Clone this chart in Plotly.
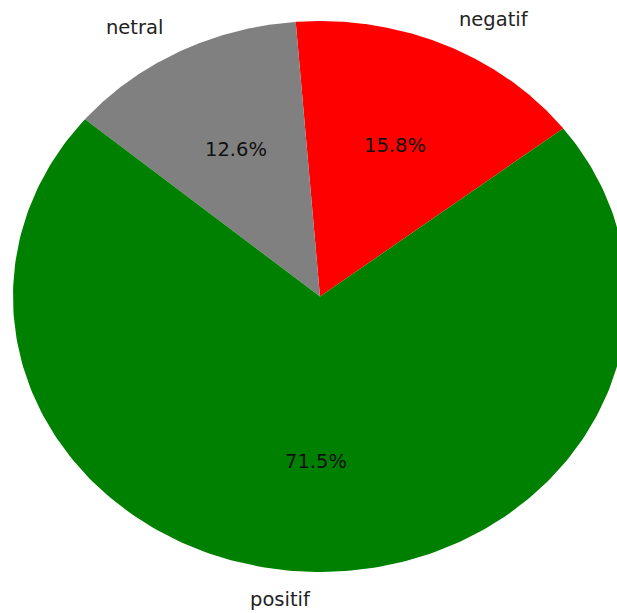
import numpy as np
import plotly.graph_objects as go

labels = ["negatif", "netral", "positif"]
values = [15.8, 12.6, 71.5]
colors = ["#ff0000", "#808080", "#008000"]

start_angle = 37.6  # degrees, counterclockwise from 3 o'clock
label_dist = 1.1
pct_dist = 0.6

fracs = np.array(values, dtype=float) / float(np.sum(values))
fig = go.Figure()
annotations = []
theta0 = start_angle
for lab, v, f, col in zip(labels, values, fracs, colors):
    theta1 = theta0 + 360.0 * f
    t = np.radians(np.linspace(theta0, theta1, 240))
    xs = np.concatenate([[0.0], np.cos(t), [0.0]])
    ys = np.concatenate([[0.0], np.sin(t), [0.0]])
    fig.add_trace(go.Scatter(x=xs, y=ys, mode="lines", fill="toself",
                             fillcolor=col, line=dict(width=0, color=col),
                             hoverinfo="skip", showlegend=False))
    mid = np.radians((theta0 + theta1) / 2.0)
    lx, ly = label_dist * np.cos(mid), label_dist * np.sin(mid)
    annotations.append(dict(x=lx, y=ly, text=lab, showarrow=False,
                            xanchor="left" if lx > 0 else "right", yanchor="middle",
                            font=dict(family="DejaVu Sans", size=19.5, color="#222222")))
    px, py = pct_dist * np.cos(mid), pct_dist * np.sin(mid)
    annotations.append(dict(x=px, y=py, text="%.1f%%" % v, showarrow=False,
                            xanchor="center", yanchor="middle",
                            font=dict(family="DejaVu Sans", size=19.5, color="#111111")))
    theta0 = theta1

fig.update_layout(
    width=617, height=613,
    margin=dict(l=0, r=0, t=0, b=0),
    paper_bgcolor="white", plot_bgcolor="white",
    xaxis=dict(range=[-1.0423, 0.9674], visible=False, showgrid=False, zeroline=False),
    yaxis=dict(range=[-1.1488, 1.0762], visible=False, showgrid=False, zeroline=False),
    annotations=annotations,
    hovermode=False,
)
fig.write_html(
    "out.html",
    config={"displayModeBar": False, "staticPlot": True},
    post_script="document.body.style.margin='0px';document.body.style.overflow='hidden';",
)
